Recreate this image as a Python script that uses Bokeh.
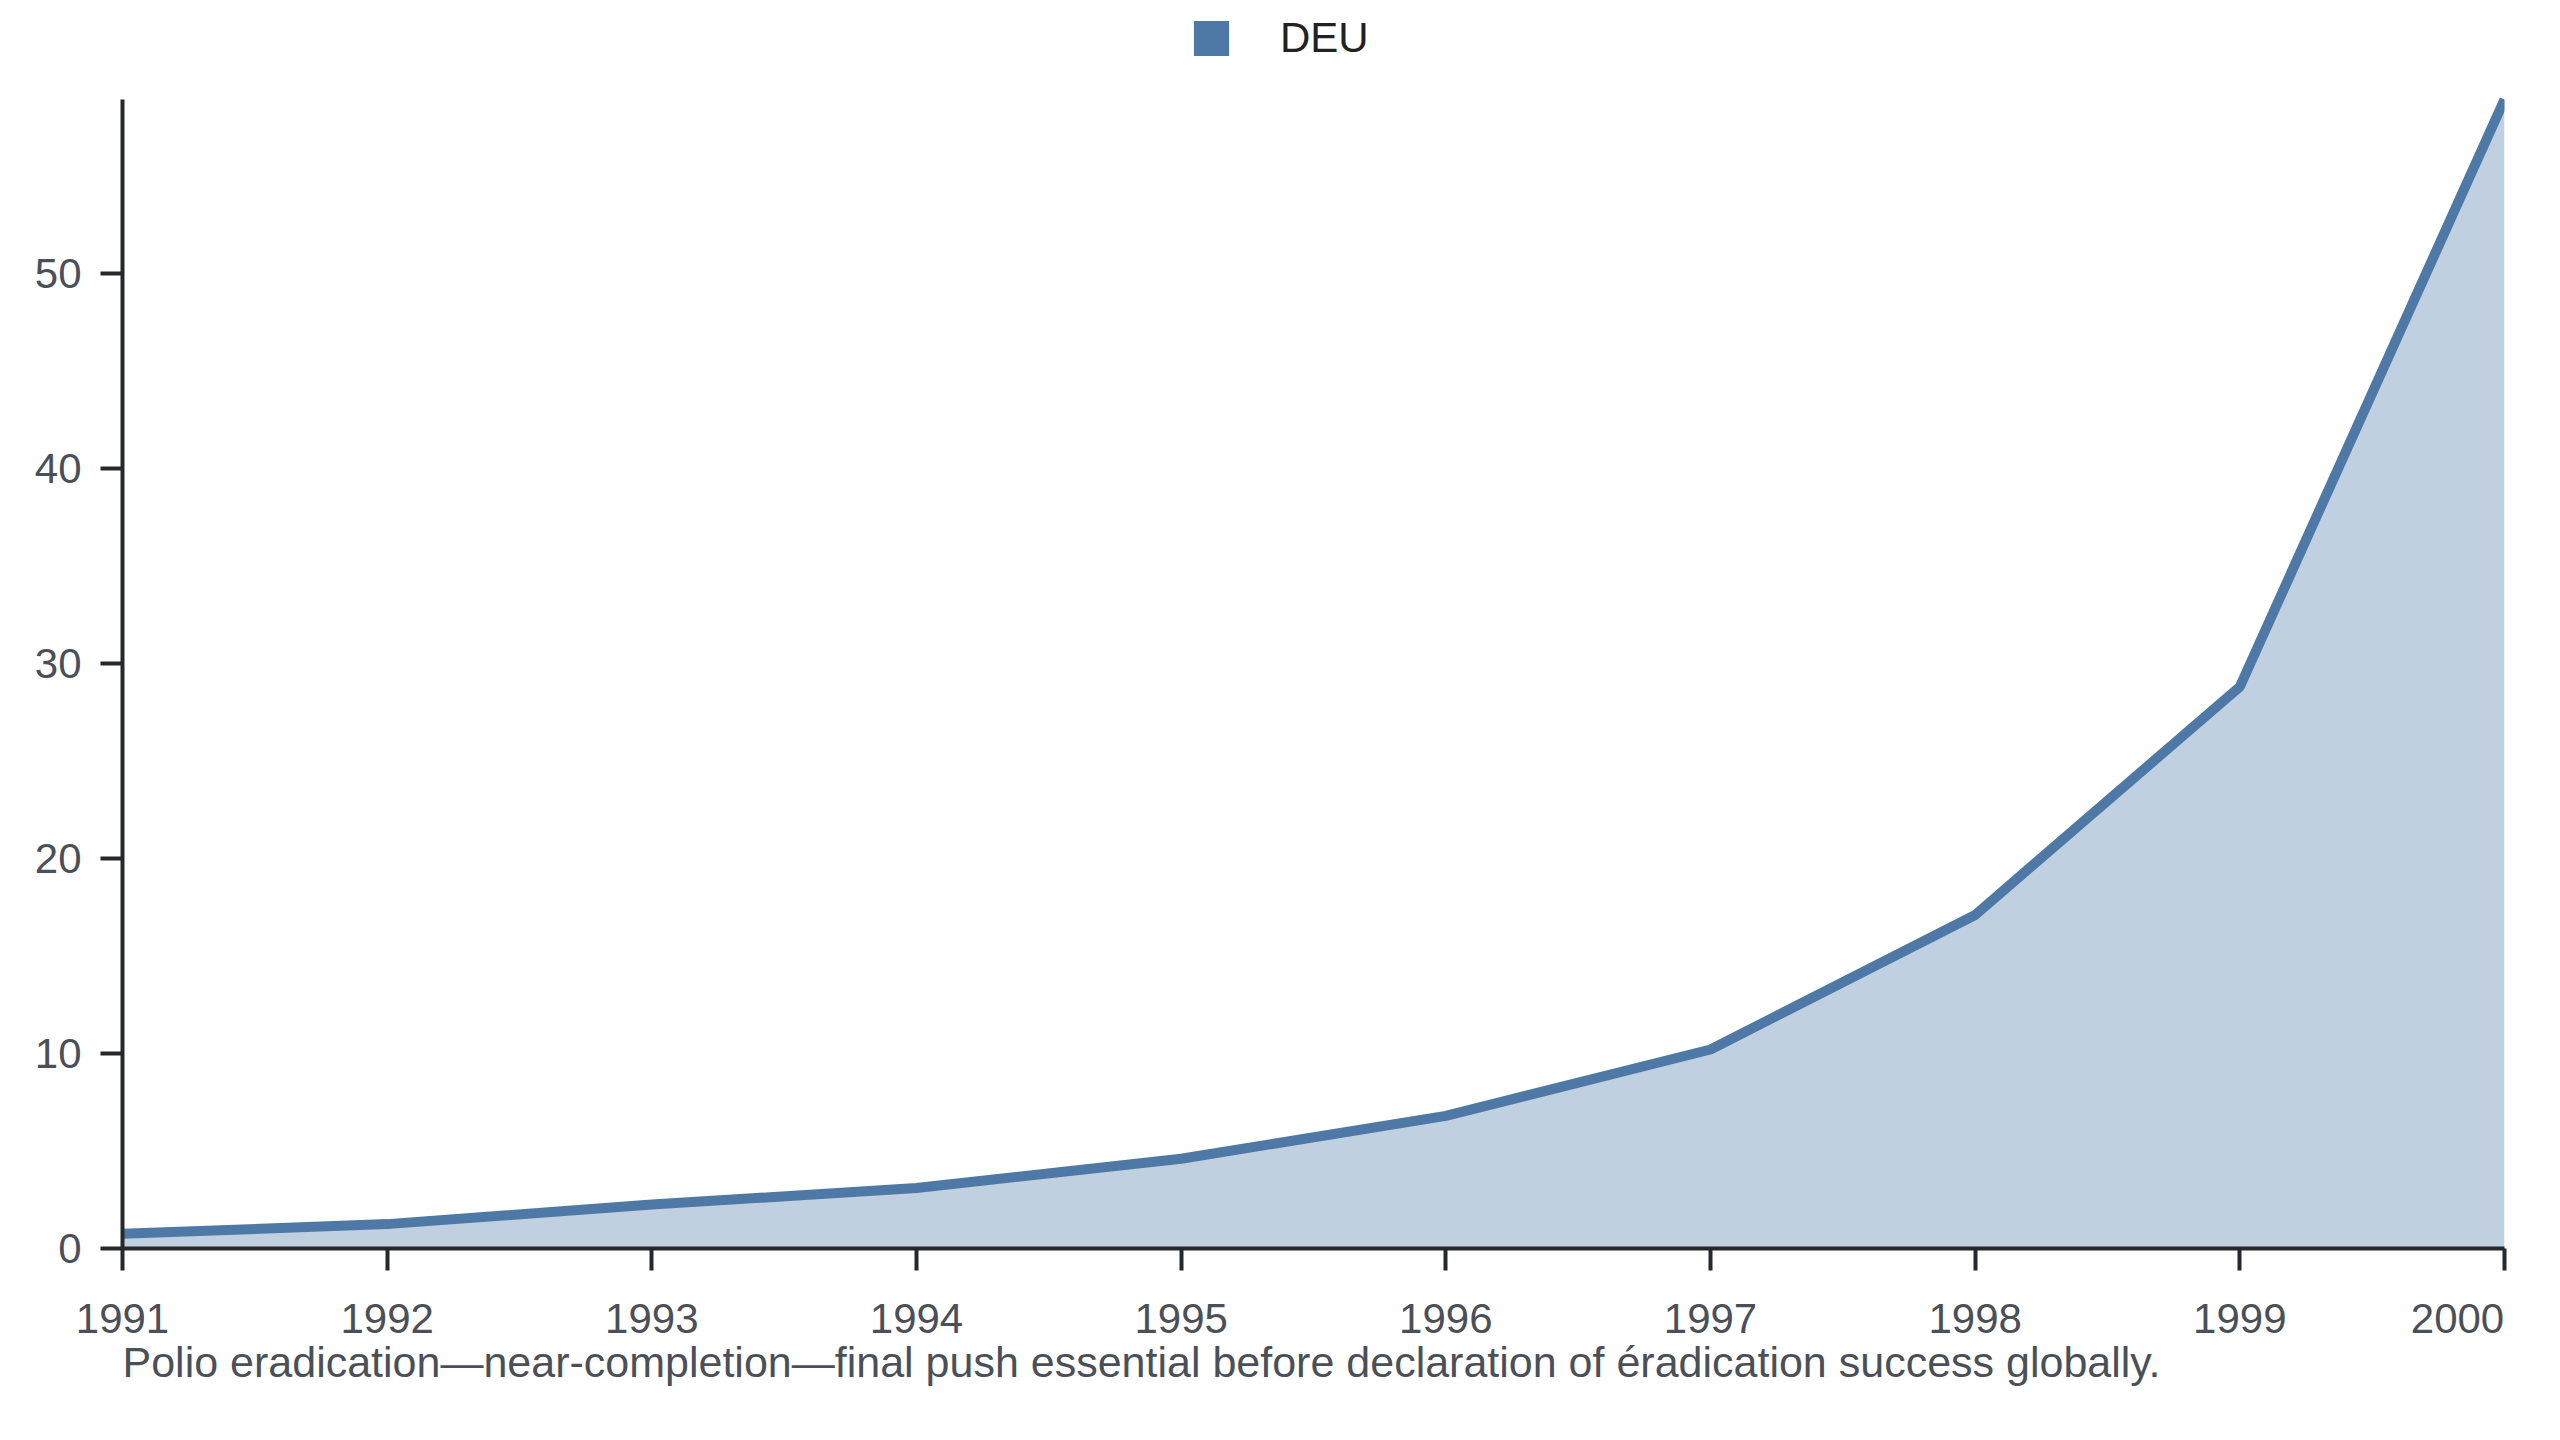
from bokeh.plotting import figure
from bokeh.models import Range1d, FixedTicker, Legend, LegendItem, ColumnDataSource, LinearAxis, Title
from bokeh.embed import file_html
from bokeh.resources import INLINE

# ---- data ----
years = [1991, 1992, 1993, 1994, 1995, 1996, 1997, 1998, 1999, 2000]
deu = [0.75, 1.25, 2.25, 3.1, 4.6, 6.8, 10.2, 17.1, 28.8, 58.9]
y_ticks = [0, 10, 20, 30, 40, 50]
series_name = "DEU"
caption = ("Polio eradication\u2014near-completion\u2014final push essential before "
           "declaration of \u00e9radication success globally.")

# ---- style ----
BLUE = "#4e79a7"
AXIS = "#25282c"
TICK_TXT = "#4b5058"
FONT = "Liberation Sans"
TICK_OUT = 22

W, H = 2544, 1431
B_LEFT, B_RIGHT, B_BOTTOM = 122, 40, 183
FRAME_TOP = 12          # frame reaches up to the legend row
DATA_TOP = 99           # pixel row where the data maximum sits
frame_bottom = H - B_BOTTOM
frame_w = W - B_LEFT - B_RIGHT
ymax = max(deu)
y_end = ymax * (frame_bottom - FRAME_TOP) / (frame_bottom - DATA_TOP)

p = figure(width=W, height=H, output_backend="svg", toolbar_location=None,
           x_range=Range1d(years[0], years[-1]), y_range=Range1d(0, y_end),
           min_border_left=B_LEFT, min_border_right=B_RIGHT, min_border_top=FRAME_TOP,
           min_border_bottom=B_BOTTOM, x_axis_location=None)
p.xgrid.visible = False
p.ygrid.visible = False
p.outline_line_color = None
p.background_fill_color = "white"
p.border_fill_color = "white"

src = ColumnDataSource(dict(year=years, value=deu))
p.varea(x="year", y1=0, y2="value", source=src, fill_color=BLUE, fill_alpha=0.35)
p.line(x="year", y="value", source=src, line_color=BLUE, line_width=10)

# x axis: line + ticks
xax = LinearAxis(ticker=FixedTicker(ticks=years),
                 major_label_overrides={y: "" for y in years},
                 major_label_standoff=0)
# x axis: tick labels (last one right-aligned to its tick, as in the reference)
px_per_year = frame_w / (years[-1] - years[0])
half_label_px = 47
label_pos = years[:-1] + [years[-1] - half_label_px / px_per_year]
xlab = LinearAxis(ticker=FixedTicker(ticks=label_pos),
                  major_label_overrides={pos: str(y) for pos, y in zip(label_pos, years)},
                  axis_line_color=None, major_tick_line_color=None,
                  major_tick_out=0, major_tick_in=0, major_label_standoff=33)
p.add_layout(xax, "below")
p.add_layout(xlab, "below")

for ax in (xax, xlab, p.yaxis[0]):
    ax.minor_tick_line_color = None
    ax.major_label_text_font = FONT
    ax.major_label_text_font_size = "42px"
    ax.major_label_text_color = TICK_TXT
for ax in (xax, p.yaxis[0]):
    ax.axis_line_color = AXIS
    ax.axis_line_width = 4
    ax.major_tick_line_color = AXIS
    ax.major_tick_line_width = 4
    ax.major_tick_out = TICK_OUT
    ax.major_tick_in = 0

p.yaxis[0].ticker = FixedTicker(ticks=y_ticks)
p.yaxis[0].major_label_standoff = 19
p.yaxis[0].bounds = (0, ymax)

# empty spacer axis (no ticks drawn), then the caption as a left-aligned title
spacer = LinearAxis(ticker=FixedTicker(ticks=[]), axis_line_color=None,
                    major_tick_line_color="white", minor_tick_line_color=None,
                    major_tick_out=34, major_tick_in=0, major_label_standoff=0)
p.add_layout(spacer, "below")
p.add_layout(Title(text=caption, align="left", text_font=FONT, text_font_size="43px",
                   text_font_style="normal", text_color=TICK_TXT, standoff=0), "below")

# legend (solid swatch drawn from a hidden copy of the area)
leg_r = p.varea(x="year", y1=0, y2="value", source=src, fill_color=BLUE, fill_alpha=1.0,
                visible=False)
GLYPH = 44              # swatch box; the drawn square is inset 10% on each side
ROW_H = 52
legend = Legend(items=[LegendItem(label=series_name, renderers=[leg_r])],
                location=(1189 - B_LEFT, frame_bottom - 15.5 - ROW_H + 4), orientation="horizontal",
                glyph_width=GLYPH, glyph_height=GLYPH, label_standoff=47,
                padding=0, margin=0, spacing=0, border_line_color=None,
                background_fill_alpha=0, inactive_fill_alpha=0, label_text_font=FONT,
                label_text_font_size="42px", label_text_color="#222222",
                label_height=ROW_H)
p.add_layout(legend)

open("out.html", "w").write(file_html(p, INLINE))
